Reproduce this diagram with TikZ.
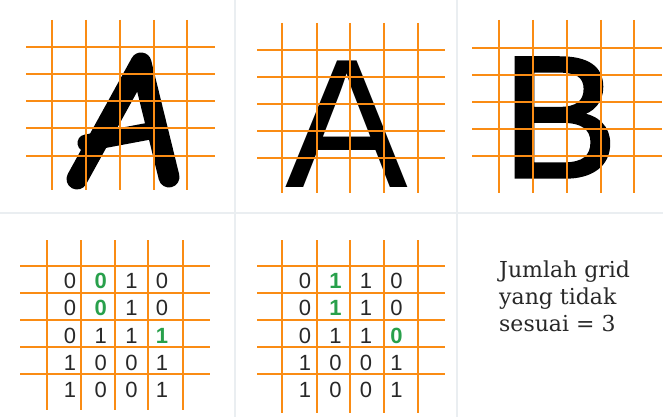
\documentclass[tikz,border=0pt]{standalone}
\usepackage{fontspec}
\setmainfont{DejaVu Serif}
\newfontfamily\sansfont{Liberation Sans}
\newfontfamily\heavysans[FakeBold=2]{Liberation Sans}
\usepackage{xcolor}
\definecolor{gridorange}{RGB}{250,140,20}
\definecolor{hitgreen}{RGB}{40,160,75}
\definecolor{inkgray}{RGB}{40,40,40}
\definecolor{sepgray}{RGB}{234,238,241}

\begin{document}
\begin{tikzpicture}[
    x=1pt, y=-1pt,
    gridline/.style={draw=gridorange, line width=1.8pt},
    separator/.style={draw=sepgray, line width=1.5pt},
    pen/.style={draw=black, line width=21pt, line cap=round, line join=round},
    glyph/.style={inner sep=0pt, anchor=base west},
    digit/.style={inner sep=0pt, text=inkgray, font=\sansfont\fontsize{22}{22}\selectfont},
    hit/.style={text=hitgreen, font=\sansfont\bfseries\fontsize{22}{22}\selectfont},
    note/.style={inner sep=0pt, align=left, text=inkgray, font=\fontsize{22}{27}\selectfont}
]

    % Canvas and panel borders
    \fill[white] (0,0) rectangle (663,417);
    \useasboundingbox (0,0) rectangle (663,417);
    \draw[separator] (235,0) -- (235,417);
    \draw[separator] (457,0) -- (457,417);
    \draw[separator] (0,213) -- (663,213);

    % Handwritten A
    \draw[pen] (77,179) -- (141,63) -- (169,177);
    \draw[pen, line width=17pt] (86,143) -- (150,131);

    % Printed letters
    \node[glyph, font=\sansfont\fontsize{184}{184}\selectfont] (printa) at (285,187) {A};
    \node[glyph, font=\heavysans\fontsize{173}{173}\selectfont] (printb) at (502,177) {B};

    % Grids over the letters
    \foreach \x in {52,86,120,154,187} \draw[gridline] (\x,20) -- (\x,190);
    \foreach \y in {47,74,101,128,156} \draw[gridline] (26,\y) -- (215,\y);

    \foreach \x in {282,317,350,384,418} \draw[gridline] (\x,23) -- (\x,193);
    \foreach \y in {50,77,104,131,158} \draw[gridline] (257,\y) -- (445,\y);

    \foreach \x in {499,533,567,601,634} \draw[gridline] (\x,20) -- (\x,193);
    \foreach \y in {48,75,102,129,156} \draw[gridline] (472,\y) -- (662,\y);

    % Grids of the binary maps
    \foreach \x in {47,81,115,148,183} \draw[gridline] (\x,240) -- (\x,410);
    \foreach \y in {266,293,320,347,374} \draw[gridline] (20,\y) -- (210,\y);

    \foreach \x in {282,317,350,384,418} \draw[gridline] (\x,240) -- (\x,413);
    \foreach \y in {266,293,320,347,374} \draw[gridline] (257,\y) -- (445,\y);

    % Binary map of the handwritten A
    \foreach \row [count=\r] in {{0/digit,0/hit,1/digit,0/digit},{0/digit,0/hit,1/digit,0/digit},{0/digit,1/digit,1/digit,1/hit},{1/digit,0/digit,0/digit,1/digit},{1/digit,0/digit,0/digit,1/digit}}
        \foreach \d/\st [count=\c] in \row
            \node[digit,\st] (hand-\r-\c) at ({70+30.7*(\c-1)},{281+27.3*(\r-1)}) {\d};

    % Binary map of the printed A
    \foreach \row [count=\r] in {{0/digit,1/hit,1/digit,0/digit},{0/digit,1/hit,1/digit,0/digit},{0/digit,1/digit,1/digit,0/hit},{1/digit,0/digit,0/digit,1/digit},{1/digit,0/digit,0/digit,1/digit}}
        \foreach \d/\st [count=\c] in \row
            \node[digit,\st] (print-\r-\c) at ({305+30.5*(\c-1)},{281+27.3*(\r-1)}) {\d};

    % Result
    \node[note, anchor=north west] (tally) at (499,261) {Jumlah grid\\yang tidak\\sesuai = 3};

\end{tikzpicture}
\end{document}
